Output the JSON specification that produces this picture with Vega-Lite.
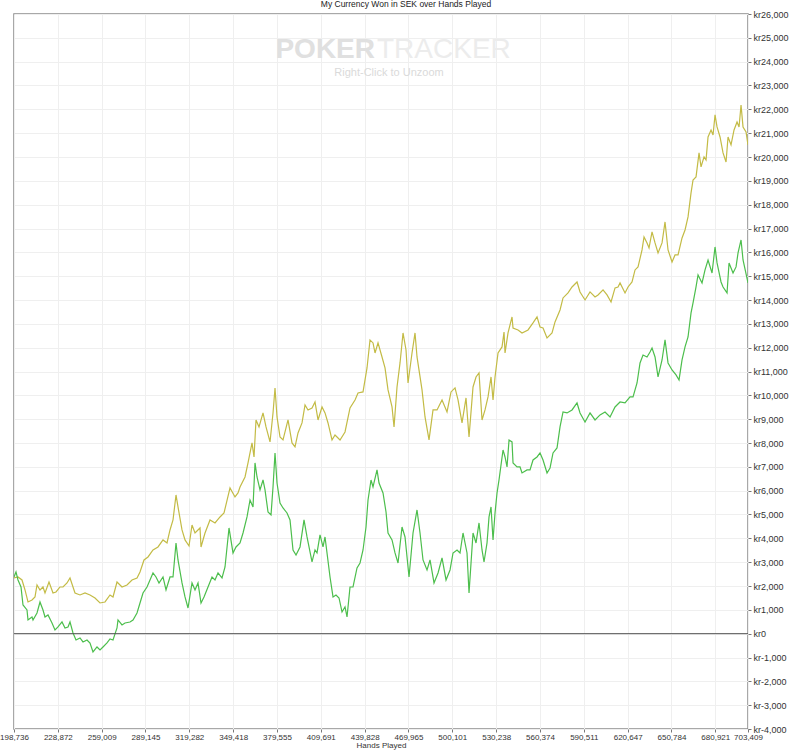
{
  "$schema": "https://vega.github.io/schema/vega-lite/v6.json",
  "width": 734,
  "height": 715,
  "autosize": {"type": "none"},
  "padding": {"left": 14, "top": 14, "right": 43, "bottom": 21},
  "background": "white",
  "config": {
    "font": "Liberation Sans",
    "view": {"stroke": "#8c8c8c", "strokeWidth": 1.5}
  },
  "title": {
    "text": "My Currency Won in SEK over Hands Played",
    "fontSize": 8.5,
    "fontWeight": "normal",
    "color": "#222222",
    "offset": 2,
    "dx": 25
  },
  "resolve": {"scale": {"x": "independent", "y": "independent"}, "axis": {"x": "independent", "y": "independent"}},
  "layer": [
    {
      "data": {
        "values": [
          {"line": "All-in EV", "hands": 198736, "won": 2337},
          {"line": "All-in EV", "hands": 201487, "won": 2379},
          {"line": "All-in EV", "hands": 204237, "won": 2253},
          {"line": "All-in EV", "hands": 206300, "won": 1834},
          {"line": "All-in EV", "hands": 208363, "won": 1330},
          {"line": "All-in EV", "hands": 211113, "won": 1414},
          {"line": "All-in EV", "hands": 213176, "won": 1540},
          {"line": "All-in EV", "hands": 214551, "won": 2043},
          {"line": "All-in EV", "hands": 216614, "won": 1834},
          {"line": "All-in EV", "hands": 218677, "won": 1959},
          {"line": "All-in EV", "hands": 220052, "won": 1708},
          {"line": "All-in EV", "hands": 222802, "won": 2169},
          {"line": "All-in EV", "hands": 225553, "won": 1708},
          {"line": "All-in EV", "hands": 227616, "won": 1750},
          {"line": "All-in EV", "hands": 230366, "won": 1959},
          {"line": "All-in EV", "hands": 232429, "won": 1959},
          {"line": "All-in EV", "hands": 235179, "won": 2127},
          {"line": "All-in EV", "hands": 237242, "won": 2337},
          {"line": "All-in EV", "hands": 239305, "won": 1959},
          {"line": "All-in EV", "hands": 240680, "won": 1708},
          {"line": "All-in EV", "hands": 244118, "won": 1624},
          {"line": "All-in EV", "hands": 247556, "won": 1708},
          {"line": "All-in EV", "hands": 250994, "won": 1624},
          {"line": "All-in EV", "hands": 254432, "won": 1498},
          {"line": "All-in EV", "hands": 257870, "won": 1288},
          {"line": "All-in EV", "hands": 261308, "won": 1330},
          {"line": "All-in EV", "hands": 264746, "won": 1624},
          {"line": "All-in EV", "hands": 266809, "won": 1540},
          {"line": "All-in EV", "hands": 269559, "won": 2169},
          {"line": "All-in EV", "hands": 272997, "won": 1959},
          {"line": "All-in EV", "hands": 276435, "won": 2043},
          {"line": "All-in EV", "hands": 279873, "won": 2253},
          {"line": "All-in EV", "hands": 283311, "won": 2337},
          {"line": "All-in EV", "hands": 285374, "won": 2589},
          {"line": "All-in EV", "hands": 288124, "won": 3092},
          {"line": "All-in EV", "hands": 290875, "won": 3218},
          {"line": "All-in EV", "hands": 294313, "won": 3512},
          {"line": "All-in EV", "hands": 297751, "won": 3638},
          {"line": "All-in EV", "hands": 301189, "won": 3932},
          {"line": "All-in EV", "hands": 303939, "won": 3806},
          {"line": "All-in EV", "hands": 306002, "won": 4351},
          {"line": "All-in EV", "hands": 308065, "won": 4771},
          {"line": "All-in EV", "hands": 310128, "won": 5820},
          {"line": "All-in EV", "hands": 311503, "won": 5316},
          {"line": "All-in EV", "hands": 314253, "won": 4351},
          {"line": "All-in EV", "hands": 316316, "won": 3932},
          {"line": "All-in EV", "hands": 319066, "won": 3680},
          {"line": "All-in EV", "hands": 321129, "won": 4561},
          {"line": "All-in EV", "hands": 323192, "won": 4225},
          {"line": "All-in EV", "hands": 326630, "won": 4435},
          {"line": "All-in EV", "hands": 327318, "won": 3638},
          {"line": "All-in EV", "hands": 330068, "won": 4225},
          {"line": "All-in EV", "hands": 333506, "won": 4771},
          {"line": "All-in EV", "hands": 336944, "won": 4645},
          {"line": "All-in EV", "hands": 340382, "won": 4897},
          {"line": "All-in EV", "hands": 343132, "won": 5065},
          {"line": "All-in EV", "hands": 347258, "won": 6114},
          {"line": "All-in EV", "hands": 350696, "won": 5736},
          {"line": "All-in EV", "hands": 352759, "won": 5904},
          {"line": "All-in EV", "hands": 354134, "won": 6155},
          {"line": "All-in EV", "hands": 357572, "won": 6575},
          {"line": "All-in EV", "hands": 359635, "won": 7163},
          {"line": "All-in EV", "hands": 362385, "won": 8002},
          {"line": "All-in EV", "hands": 363760, "won": 7414},
          {"line": "All-in EV", "hands": 365136, "won": 8967},
          {"line": "All-in EV", "hands": 367198, "won": 8673},
          {"line": "All-in EV", "hands": 369949, "won": 9261},
          {"line": "All-in EV", "hands": 372012, "won": 8673},
          {"line": "All-in EV", "hands": 374762, "won": 8044},
          {"line": "All-in EV", "hands": 376825, "won": 9261},
          {"line": "All-in EV", "hands": 378200, "won": 10310},
          {"line": "All-in EV", "hands": 379575, "won": 9093},
          {"line": "All-in EV", "hands": 381638, "won": 8253},
          {"line": "All-in EV", "hands": 383701, "won": 8128},
          {"line": "All-in EV", "hands": 387139, "won": 8967},
          {"line": "All-in EV", "hands": 389889, "won": 8002},
          {"line": "All-in EV", "hands": 391952, "won": 7834},
          {"line": "All-in EV", "hands": 394015, "won": 8421},
          {"line": "All-in EV", "hands": 396765, "won": 8841},
          {"line": "All-in EV", "hands": 398828, "won": 9596},
          {"line": "All-in EV", "hands": 400891, "won": 9386},
          {"line": "All-in EV", "hands": 403641, "won": 9470},
          {"line": "All-in EV", "hands": 405704, "won": 9722},
          {"line": "All-in EV", "hands": 407767, "won": 8967},
          {"line": "All-in EV", "hands": 410517, "won": 9512},
          {"line": "All-in EV", "hands": 412580, "won": 9261},
          {"line": "All-in EV", "hands": 414643, "won": 8841},
          {"line": "All-in EV", "hands": 417393, "won": 8128},
          {"line": "All-in EV", "hands": 419456, "won": 8337},
          {"line": "All-in EV", "hands": 422894, "won": 8128},
          {"line": "All-in EV", "hands": 426332, "won": 8463},
          {"line": "All-in EV", "hands": 429770, "won": 9470},
          {"line": "All-in EV", "hands": 433208, "won": 9806},
          {"line": "All-in EV", "hands": 435271, "won": 10100},
          {"line": "All-in EV", "hands": 438709, "won": 10142},
          {"line": "All-in EV", "hands": 441459, "won": 11149},
          {"line": "All-in EV", "hands": 443522, "won": 12324},
          {"line": "All-in EV", "hands": 445585, "won": 12198},
          {"line": "All-in EV", "hands": 446960, "won": 11778},
          {"line": "All-in EV", "hands": 449023, "won": 12198},
          {"line": "All-in EV", "hands": 451773, "won": 11610},
          {"line": "All-in EV", "hands": 453836, "won": 11149},
          {"line": "All-in EV", "hands": 455899, "won": 10226},
          {"line": "All-in EV", "hands": 458649, "won": 9512},
          {"line": "All-in EV", "hands": 460024, "won": 8673},
          {"line": "All-in EV", "hands": 462087, "won": 10351},
          {"line": "All-in EV", "hands": 464150, "won": 11359},
          {"line": "All-in EV", "hands": 466213, "won": 12617},
          {"line": "All-in EV", "hands": 468276, "won": 11904},
          {"line": "All-in EV", "hands": 469651, "won": 10519},
          {"line": "All-in EV", "hands": 472401, "won": 11778},
          {"line": "All-in EV", "hands": 474464, "won": 12617},
          {"line": "All-in EV", "hands": 475839, "won": 11610},
          {"line": "All-in EV", "hands": 479277, "won": 10226},
          {"line": "All-in EV", "hands": 481340, "won": 9093},
          {"line": "All-in EV", "hands": 484090, "won": 8128},
          {"line": "All-in EV", "hands": 486841, "won": 9386},
          {"line": "All-in EV", "hands": 489591, "won": 9386},
          {"line": "All-in EV", "hands": 493029, "won": 9806},
          {"line": "All-in EV", "hands": 496467, "won": 9302},
          {"line": "All-in EV", "hands": 499218, "won": 10142},
          {"line": "All-in EV", "hands": 501968, "won": 10310},
          {"line": "All-in EV", "hands": 504031, "won": 9806},
          {"line": "All-in EV", "hands": 506781, "won": 8841},
          {"line": "All-in EV", "hands": 509532, "won": 9890},
          {"line": "All-in EV", "hands": 511594, "won": 8253},
          {"line": "All-in EV", "hands": 514345, "won": 10351},
          {"line": "All-in EV", "hands": 516408, "won": 10771},
          {"line": "All-in EV", "hands": 518470, "won": 10939},
          {"line": "All-in EV", "hands": 520533, "won": 8967},
          {"line": "All-in EV", "hands": 522596, "won": 9386},
          {"line": "All-in EV", "hands": 524659, "won": 9932},
          {"line": "All-in EV", "hands": 526722, "won": 10771},
          {"line": "All-in EV", "hands": 528097, "won": 9806},
          {"line": "All-in EV", "hands": 529472, "won": 10771},
          {"line": "All-in EV", "hands": 531535, "won": 11778},
          {"line": "All-in EV", "hands": 534285, "won": 12030},
          {"line": "All-in EV", "hands": 535660, "won": 12659},
          {"line": "All-in EV", "hands": 536348, "won": 11778},
          {"line": "All-in EV", "hands": 538411, "won": 12617},
          {"line": "All-in EV", "hands": 541161, "won": 13289},
          {"line": "All-in EV", "hands": 541849, "won": 12827},
          {"line": "All-in EV", "hands": 545287, "won": 12743},
          {"line": "All-in EV", "hands": 548037, "won": 12617},
          {"line": "All-in EV", "hands": 552163, "won": 12743},
          {"line": "All-in EV", "hands": 555601, "won": 13037},
          {"line": "All-in EV", "hands": 558351, "won": 13289},
          {"line": "All-in EV", "hands": 560414, "won": 12869},
          {"line": "All-in EV", "hands": 562477, "won": 12827},
          {"line": "All-in EV", "hands": 565227, "won": 12408},
          {"line": "All-in EV", "hands": 568665, "won": 12617},
          {"line": "All-in EV", "hands": 570728, "won": 13079},
          {"line": "All-in EV", "hands": 574166, "won": 13582},
          {"line": "All-in EV", "hands": 576229, "won": 14086},
          {"line": "All-in EV", "hands": 579667, "won": 14296},
          {"line": "All-in EV", "hands": 582417, "won": 14547},
          {"line": "All-in EV", "hands": 585855, "won": 14757},
          {"line": "All-in EV", "hands": 587918, "won": 14338},
          {"line": "All-in EV", "hands": 591356, "won": 14002},
          {"line": "All-in EV", "hands": 594794, "won": 14338},
          {"line": "All-in EV", "hands": 598232, "won": 14128},
          {"line": "All-in EV", "hands": 600295, "won": 14212},
          {"line": "All-in EV", "hands": 603733, "won": 14422},
          {"line": "All-in EV", "hands": 606483, "won": 14212},
          {"line": "All-in EV", "hands": 609234, "won": 13918},
          {"line": "All-in EV", "hands": 611984, "won": 14506},
          {"line": "All-in EV", "hands": 614047, "won": 14547},
          {"line": "All-in EV", "hands": 615422, "won": 14715},
          {"line": "All-in EV", "hands": 618860, "won": 14296},
          {"line": "All-in EV", "hands": 620923, "won": 14547},
          {"line": "All-in EV", "hands": 623673, "won": 14757},
          {"line": "All-in EV", "hands": 625736, "won": 15261},
          {"line": "All-in EV", "hands": 627799, "won": 15387},
          {"line": "All-in EV", "hands": 630549, "won": 16100},
          {"line": "All-in EV", "hands": 631924, "won": 16645},
          {"line": "All-in EV", "hands": 633987, "won": 16394},
          {"line": "All-in EV", "hands": 635362, "won": 16184},
          {"line": "All-in EV", "hands": 637425, "won": 16855},
          {"line": "All-in EV", "hands": 639488, "won": 16394},
          {"line": "All-in EV", "hands": 641551, "won": 15974},
          {"line": "All-in EV", "hands": 644301, "won": 16394},
          {"line": "All-in EV", "hands": 646364, "won": 17275},
          {"line": "All-in EV", "hands": 648427, "won": 16100},
          {"line": "All-in EV", "hands": 651177, "won": 15596},
          {"line": "All-in EV", "hands": 653240, "won": 15890},
          {"line": "All-in EV", "hands": 655303, "won": 15890},
          {"line": "All-in EV", "hands": 658053, "won": 16604},
          {"line": "All-in EV", "hands": 660116, "won": 16939},
          {"line": "All-in EV", "hands": 662179, "won": 17485},
          {"line": "All-in EV", "hands": 664242, "won": 18492},
          {"line": "All-in EV", "hands": 665617, "won": 19037},
          {"line": "All-in EV", "hands": 667680, "won": 19163},
          {"line": "All-in EV", "hands": 669742, "won": 20170},
          {"line": "All-in EV", "hands": 671118, "won": 19583},
          {"line": "All-in EV", "hands": 673180, "won": 20002},
          {"line": "All-in EV", "hands": 674556, "won": 19876},
          {"line": "All-in EV", "hands": 675931, "won": 20841},
          {"line": "All-in EV", "hands": 677994, "won": 21135},
          {"line": "All-in EV", "hands": 679369, "won": 20925},
          {"line": "All-in EV", "hands": 680744, "won": 21765},
          {"line": "All-in EV", "hands": 682119, "won": 21261},
          {"line": "All-in EV", "hands": 684182, "won": 20841},
          {"line": "All-in EV", "hands": 686245, "won": 20170},
          {"line": "All-in EV", "hands": 688308, "won": 19792},
          {"line": "All-in EV", "hands": 689683, "won": 20841},
          {"line": "All-in EV", "hands": 691746, "won": 20506},
          {"line": "All-in EV", "hands": 693808, "won": 21135},
          {"line": "All-in EV", "hands": 695871, "won": 21471},
          {"line": "All-in EV", "hands": 697246, "won": 21261},
          {"line": "All-in EV", "hands": 698622, "won": 22184},
          {"line": "All-in EV", "hands": 699997, "won": 21261},
          {"line": "All-in EV", "hands": 702060, "won": 21051},
          {"line": "All-in EV", "hands": 703409, "won": 20506},
          {"line": "Net Won", "hands": 198736, "won": 2379},
          {"line": "Net Won", "hands": 200112, "won": 2589},
          {"line": "Net Won", "hands": 201487, "won": 2253},
          {"line": "Net Won", "hands": 203550, "won": 1959},
          {"line": "Net Won", "hands": 204925, "won": 1204},
          {"line": "Net Won", "hands": 207675, "won": 994},
          {"line": "Net Won", "hands": 208363, "won": 575},
          {"line": "Net Won", "hands": 211113, "won": 701},
          {"line": "Net Won", "hands": 211801, "won": 575},
          {"line": "Net Won", "hands": 214551, "won": 869},
          {"line": "Net Won", "hands": 216614, "won": 1330},
          {"line": "Net Won", "hands": 218677, "won": 994},
          {"line": "Net Won", "hands": 220052, "won": 701},
          {"line": "Net Won", "hands": 222115, "won": 785},
          {"line": "Net Won", "hands": 224865, "won": 449},
          {"line": "Net Won", "hands": 226928, "won": 155},
          {"line": "Net Won", "hands": 228991, "won": 281},
          {"line": "Net Won", "hands": 231741, "won": 491},
          {"line": "Net Won", "hands": 233804, "won": 239},
          {"line": "Net Won", "hands": 235867, "won": 281},
          {"line": "Net Won", "hands": 237242, "won": 491},
          {"line": "Net Won", "hands": 239305, "won": 29},
          {"line": "Net Won", "hands": 241368, "won": -264},
          {"line": "Net Won", "hands": 244118, "won": -180},
          {"line": "Net Won", "hands": 246181, "won": -348},
          {"line": "Net Won", "hands": 248931, "won": -264},
          {"line": "Net Won", "hands": 250994, "won": -390},
          {"line": "Net Won", "hands": 253057, "won": -768},
          {"line": "Net Won", "hands": 255807, "won": -558},
          {"line": "Net Won", "hands": 257870, "won": -684},
          {"line": "Net Won", "hands": 259933, "won": -558},
          {"line": "Net Won", "hands": 262683, "won": -390},
          {"line": "Net Won", "hands": 264746, "won": -222},
          {"line": "Net Won", "hands": 266809, "won": -264},
          {"line": "Net Won", "hands": 269559, "won": 239},
          {"line": "Net Won", "hands": 270247, "won": 575},
          {"line": "Net Won", "hands": 272997, "won": 365},
          {"line": "Net Won", "hands": 275060, "won": 449},
          {"line": "Net Won", "hands": 278498, "won": 491},
          {"line": "Net Won", "hands": 280561, "won": 575},
          {"line": "Net Won", "hands": 283311, "won": 869},
          {"line": "Net Won", "hands": 285374, "won": 1288},
          {"line": "Net Won", "hands": 287437, "won": 1708},
          {"line": "Net Won", "hands": 290187, "won": 1959},
          {"line": "Net Won", "hands": 292250, "won": 2253},
          {"line": "Net Won", "hands": 294313, "won": 2547},
          {"line": "Net Won", "hands": 296376, "won": 2379},
          {"line": "Net Won", "hands": 298438, "won": 2127},
          {"line": "Net Won", "hands": 301189, "won": 2379},
          {"line": "Net Won", "hands": 303252, "won": 1834},
          {"line": "Net Won", "hands": 306002, "won": 2379},
          {"line": "Net Won", "hands": 308065, "won": 2379},
          {"line": "Net Won", "hands": 310128, "won": 3806},
          {"line": "Net Won", "hands": 311503, "won": 3092},
          {"line": "Net Won", "hands": 314253, "won": 2127},
          {"line": "Net Won", "hands": 316316, "won": 1540},
          {"line": "Net Won", "hands": 318379, "won": 1078},
          {"line": "Net Won", "hands": 321129, "won": 2127},
          {"line": "Net Won", "hands": 323192, "won": 1834},
          {"line": "Net Won", "hands": 325255, "won": 2127},
          {"line": "Net Won", "hands": 327318, "won": 1288},
          {"line": "Net Won", "hands": 329380, "won": 1540},
          {"line": "Net Won", "hands": 332131, "won": 1959},
          {"line": "Net Won", "hands": 334881, "won": 2379},
          {"line": "Net Won", "hands": 336944, "won": 2253},
          {"line": "Net Won", "hands": 339007, "won": 2547},
          {"line": "Net Won", "hands": 341757, "won": 2337},
          {"line": "Net Won", "hands": 343820, "won": 2799},
          {"line": "Net Won", "hands": 346570, "won": 4435},
          {"line": "Net Won", "hands": 349321, "won": 3386},
          {"line": "Net Won", "hands": 351384, "won": 3638},
          {"line": "Net Won", "hands": 354134, "won": 3806},
          {"line": "Net Won", "hands": 356197, "won": 4225},
          {"line": "Net Won", "hands": 358947, "won": 4897},
          {"line": "Net Won", "hands": 361010, "won": 5610},
          {"line": "Net Won", "hands": 363073, "won": 5316},
          {"line": "Net Won", "hands": 364448, "won": 7163},
          {"line": "Net Won", "hands": 365823, "won": 6575},
          {"line": "Net Won", "hands": 367886, "won": 6030},
          {"line": "Net Won", "hands": 369949, "won": 6449},
          {"line": "Net Won", "hands": 371324, "won": 6030},
          {"line": "Net Won", "hands": 373387, "won": 5106},
          {"line": "Net Won", "hands": 375450, "won": 4981},
          {"line": "Net Won", "hands": 376825, "won": 6155},
          {"line": "Net Won", "hands": 378200, "won": 7582},
          {"line": "Net Won", "hands": 379575, "won": 6323},
          {"line": "Net Won", "hands": 381638, "won": 5484},
          {"line": "Net Won", "hands": 383701, "won": 5274},
          {"line": "Net Won", "hands": 386451, "won": 5065},
          {"line": "Net Won", "hands": 388514, "won": 4771},
          {"line": "Net Won", "hands": 390577, "won": 3512},
          {"line": "Net Won", "hands": 392640, "won": 3302},
          {"line": "Net Won", "hands": 395390, "won": 3638},
          {"line": "Net Won", "hands": 398140, "won": 4771},
          {"line": "Net Won", "hands": 400203, "won": 4057},
          {"line": "Net Won", "hands": 401578, "won": 3638},
          {"line": "Net Won", "hands": 403641, "won": 3008},
          {"line": "Net Won", "hands": 405704, "won": 3512},
          {"line": "Net Won", "hands": 407079, "won": 3386},
          {"line": "Net Won", "hands": 409142, "won": 4141},
          {"line": "Net Won", "hands": 411205, "won": 3638},
          {"line": "Net Won", "hands": 412580, "won": 4057},
          {"line": "Net Won", "hands": 413955, "won": 3386},
          {"line": "Net Won", "hands": 416018, "won": 2379},
          {"line": "Net Won", "hands": 418081, "won": 1540},
          {"line": "Net Won", "hands": 420144, "won": 1624},
          {"line": "Net Won", "hands": 422206, "won": 1498},
          {"line": "Net Won", "hands": 424269, "won": 910},
          {"line": "Net Won", "hands": 426332, "won": 1120},
          {"line": "Net Won", "hands": 427707, "won": 701},
          {"line": "Net Won", "hands": 429770, "won": 1959},
          {"line": "Net Won", "hands": 431833, "won": 1959},
          {"line": "Net Won", "hands": 434583, "won": 2757},
          {"line": "Net Won", "hands": 436646, "won": 2967},
          {"line": "Net Won", "hands": 438709, "won": 3512},
          {"line": "Net Won", "hands": 440772, "won": 4477},
          {"line": "Net Won", "hands": 442147, "won": 5610},
          {"line": "Net Won", "hands": 444210, "won": 6449},
          {"line": "Net Won", "hands": 445585, "won": 6155},
          {"line": "Net Won", "hands": 448335, "won": 6869},
          {"line": "Net Won", "hands": 449710, "won": 6323},
          {"line": "Net Won", "hands": 452461, "won": 5904},
          {"line": "Net Won", "hands": 454524, "won": 5106},
          {"line": "Net Won", "hands": 455899, "won": 4225},
          {"line": "Net Won", "hands": 458649, "won": 3932},
          {"line": "Net Won", "hands": 460712, "won": 3386},
          {"line": "Net Won", "hands": 462775, "won": 2967},
          {"line": "Net Won", "hands": 465525, "won": 4477},
          {"line": "Net Won", "hands": 467588, "won": 4057},
          {"line": "Net Won", "hands": 470338, "won": 2379},
          {"line": "Net Won", "hands": 473089, "won": 4225},
          {"line": "Net Won", "hands": 475839, "won": 5190},
          {"line": "Net Won", "hands": 477902, "won": 4225},
          {"line": "Net Won", "hands": 479965, "won": 3092},
          {"line": "Net Won", "hands": 482715, "won": 2673},
          {"line": "Net Won", "hands": 484778, "won": 3092},
          {"line": "Net Won", "hands": 487528, "won": 2127},
          {"line": "Net Won", "hands": 490279, "won": 2547},
          {"line": "Net Won", "hands": 493029, "won": 3176},
          {"line": "Net Won", "hands": 495780, "won": 2253},
          {"line": "Net Won", "hands": 498530, "won": 2673},
          {"line": "Net Won", "hands": 500593, "won": 3386},
          {"line": "Net Won", "hands": 503343, "won": 3512},
          {"line": "Net Won", "hands": 505406, "won": 3386},
          {"line": "Net Won", "hands": 507469, "won": 4225},
          {"line": "Net Won", "hands": 510219, "won": 3386},
          {"line": "Net Won", "hands": 511594, "won": 1708},
          {"line": "Net Won", "hands": 514345, "won": 4225},
          {"line": "Net Won", "hands": 516408, "won": 3806},
          {"line": "Net Won", "hands": 518470, "won": 4645},
          {"line": "Net Won", "hands": 520533, "won": 3512},
          {"line": "Net Won", "hands": 521908, "won": 3008},
          {"line": "Net Won", "hands": 523971, "won": 3806},
          {"line": "Net Won", "hands": 525346, "won": 4897},
          {"line": "Net Won", "hands": 526722, "won": 5316},
          {"line": "Net Won", "hands": 528097, "won": 3932},
          {"line": "Net Won", "hands": 529472, "won": 5065},
          {"line": "Net Won", "hands": 530847, "won": 5904},
          {"line": "Net Won", "hands": 532222, "won": 6449},
          {"line": "Net Won", "hands": 534973, "won": 7708},
          {"line": "Net Won", "hands": 536348, "won": 7414},
          {"line": "Net Won", "hands": 537723, "won": 6995},
          {"line": "Net Won", "hands": 539098, "won": 8128},
          {"line": "Net Won", "hands": 541161, "won": 8044},
          {"line": "Net Won", "hands": 541849, "won": 7163},
          {"line": "Net Won", "hands": 544599, "won": 6995},
          {"line": "Net Won", "hands": 546662, "won": 6995},
          {"line": "Net Won", "hands": 548037, "won": 6743},
          {"line": "Net Won", "hands": 551475, "won": 6869},
          {"line": "Net Won", "hands": 553538, "won": 6869},
          {"line": "Net Won", "hands": 555601, "won": 7288},
          {"line": "Net Won", "hands": 558351, "won": 7414},
          {"line": "Net Won", "hands": 560414, "won": 7582},
          {"line": "Net Won", "hands": 562477, "won": 7288},
          {"line": "Net Won", "hands": 565227, "won": 6743},
          {"line": "Net Won", "hands": 567290, "won": 6953},
          {"line": "Net Won", "hands": 569353, "won": 7582},
          {"line": "Net Won", "hands": 572103, "won": 7792},
          {"line": "Net Won", "hands": 574166, "won": 8673},
          {"line": "Net Won", "hands": 576229, "won": 9302},
          {"line": "Net Won", "hands": 578979, "won": 9261},
          {"line": "Net Won", "hands": 582417, "won": 9386},
          {"line": "Net Won", "hands": 585855, "won": 9680},
          {"line": "Net Won", "hands": 587918, "won": 9261},
          {"line": "Net Won", "hands": 591356, "won": 8883},
          {"line": "Net Won", "hands": 594794, "won": 9261},
          {"line": "Net Won", "hands": 598232, "won": 8967},
          {"line": "Net Won", "hands": 601670, "won": 9177},
          {"line": "Net Won", "hands": 605108, "won": 9302},
          {"line": "Net Won", "hands": 608546, "won": 9093},
          {"line": "Net Won", "hands": 611984, "won": 9512},
          {"line": "Net Won", "hands": 615422, "won": 9722},
          {"line": "Net Won", "hands": 618860, "won": 9680},
          {"line": "Net Won", "hands": 622298, "won": 9932},
          {"line": "Net Won", "hands": 624361, "won": 9932},
          {"line": "Net Won", "hands": 627111, "won": 10519},
          {"line": "Net Won", "hands": 629174, "won": 11359},
          {"line": "Net Won", "hands": 631237, "won": 11694},
          {"line": "Net Won", "hands": 633987, "won": 11610},
          {"line": "Net Won", "hands": 636050, "won": 11820},
          {"line": "Net Won", "hands": 637425, "won": 11988},
          {"line": "Net Won", "hands": 639488, "won": 11610},
          {"line": "Net Won", "hands": 641551, "won": 10771},
          {"line": "Net Won", "hands": 644301, "won": 11484},
          {"line": "Net Won", "hands": 646364, "won": 12324},
          {"line": "Net Won", "hands": 648427, "won": 11359},
          {"line": "Net Won", "hands": 651177, "won": 11065},
          {"line": "Net Won", "hands": 653928, "won": 10855},
          {"line": "Net Won", "hands": 655990, "won": 10645},
          {"line": "Net Won", "hands": 658053, "won": 11484},
          {"line": "Net Won", "hands": 660116, "won": 12030},
          {"line": "Net Won", "hands": 662179, "won": 12449},
          {"line": "Net Won", "hands": 664242, "won": 13457},
          {"line": "Net Won", "hands": 665617, "won": 13876},
          {"line": "Net Won", "hands": 667680, "won": 14547},
          {"line": "Net Won", "hands": 669055, "won": 15051},
          {"line": "Net Won", "hands": 671805, "won": 14715},
          {"line": "Net Won", "hands": 673868, "won": 15261},
          {"line": "Net Won", "hands": 675931, "won": 15680},
          {"line": "Net Won", "hands": 678681, "won": 15135},
          {"line": "Net Won", "hands": 680744, "won": 16226},
          {"line": "Net Won", "hands": 682119, "won": 15555},
          {"line": "Net Won", "hands": 684870, "won": 14757},
          {"line": "Net Won", "hands": 686245, "won": 14547},
          {"line": "Net Won", "hands": 688995, "won": 14296},
          {"line": "Net Won", "hands": 690370, "won": 15555},
          {"line": "Net Won", "hands": 693121, "won": 15135},
          {"line": "Net Won", "hands": 695184, "won": 15387},
          {"line": "Net Won", "hands": 696559, "won": 15974},
          {"line": "Net Won", "hands": 698622, "won": 16520},
          {"line": "Net Won", "hands": 699997, "won": 15680},
          {"line": "Net Won", "hands": 703409, "won": 14715}
        ]
      },
      "mark": {"type": "line", "strokeWidth": 1.2, "clip": true},
      "encoding": {
        "x": {
          "field": "hands",
          "type": "quantitative",
          "scale": {"domain": [198736, 703409], "nice": false, "zero": false},
          "axis": {
            "values": [198736, 228872, 259009, 289145, 319282, 349418, 379555, 409691, 439828, 469965, 500101, 530238, 560374, 590511, 620647, 650784, 680921, 703409],
            "labelExpr": "format(datum.value, ',')",
            "grid": true,
            "gridColor": "#efefef",
            "domain": false,
            "tickColor": "#777777",
            "tickSize": 3,
            "labelFontSize": 8,
            "labelColor": "#333333",
            "labelFlush": false,
            "labelOverlap": false,
            "labelPadding": 1,
            "title": "Hands Played",
            "titleFontSize": 8,
            "titleFontWeight": "normal",
            "titleColor": "#333333",
            "titlePadding": 0
          }
        },
        "y": {
          "field": "won",
          "type": "quantitative",
          "scale": {"domain": [-4000, 26000], "nice": false, "zero": false},
          "axis": {
            "orient": "right",
            "values": [-4000, -3000, -2000, -1000, 0, 1000, 2000, 3000, 4000, 5000, 6000, 7000, 8000, 9000, 10000, 11000, 12000, 13000, 14000, 15000, 16000, 17000, 18000, 19000, 20000, 21000, 22000, 23000, 24000, 25000, 26000],
            "labelExpr": "datum.value < 0 ? 'kr-' + format(-datum.value, ',') : 'kr' + format(datum.value, ',')",
            "grid": true,
            "gridColor": "#efefef",
            "domain": false,
            "tickColor": "#777777",
            "tickSize": 3,
            "labelFontSize": 9,
            "labelColor": "#333333",
            "labelFlush": false,
            "labelPadding": 2,
            "title": null
          }
        },
        "color": {
          "field": "line",
          "type": "nominal",
          "scale": {"domain": ["All-in EV", "Net Won"], "range": ["#c3bb45", "#4cbe4c"]},
          "legend": null
        }
      }
    },
    {
      "data": {"values": [{}]},
      "mark": {"type": "rule", "color": "#555555", "strokeWidth": 1},
      "encoding": {
        "y": {"datum": 0, "type": "quantitative", "scale": {"domain": [-4000, 26000], "nice": false, "zero": false}, "axis": null}
      }
    },
    {
      "data": {"values": [{}]},
      "mark": {"type": "text", "text": "POKER", "fontSize": 28, "fontWeight": "bold", "color": "#e0e0e0", "align": "right", "baseline": "alphabetic"},
      "encoding": {
        "x": {"datum": 446960, "type": "quantitative", "scale": {"domain": [198736, 703409], "nice": false, "zero": false}, "axis": null},
        "y": {"datum": 24156, "type": "quantitative", "scale": {"domain": [-4000, 26000], "nice": false, "zero": false}, "axis": null}
      }
    },
    {
      "data": {"values": [{}]},
      "mark": {"type": "text", "text": "TRACKER", "fontSize": 28, "color": "#ececec", "align": "left", "baseline": "alphabetic"},
      "encoding": {
        "x": {"datum": 448335, "type": "quantitative", "scale": {"domain": [198736, 703409], "nice": false, "zero": false}, "axis": null},
        "y": {"datum": 24156, "type": "quantitative", "scale": {"domain": [-4000, 26000], "nice": false, "zero": false}, "axis": null}
      }
    },
    {
      "data": {"values": [{}]},
      "mark": {"type": "text", "text": "Right-Click to Unzoom", "fontSize": 11, "color": "#dadada", "align": "center", "baseline": "alphabetic"},
      "encoding": {
        "x": {"datum": 456586, "type": "quantitative", "scale": {"domain": [198736, 703409], "nice": false, "zero": false}, "axis": null},
        "y": {"datum": 23401, "type": "quantitative", "scale": {"domain": [-4000, 26000], "nice": false, "zero": false}, "axis": null}
      }
    }
  ]
}
